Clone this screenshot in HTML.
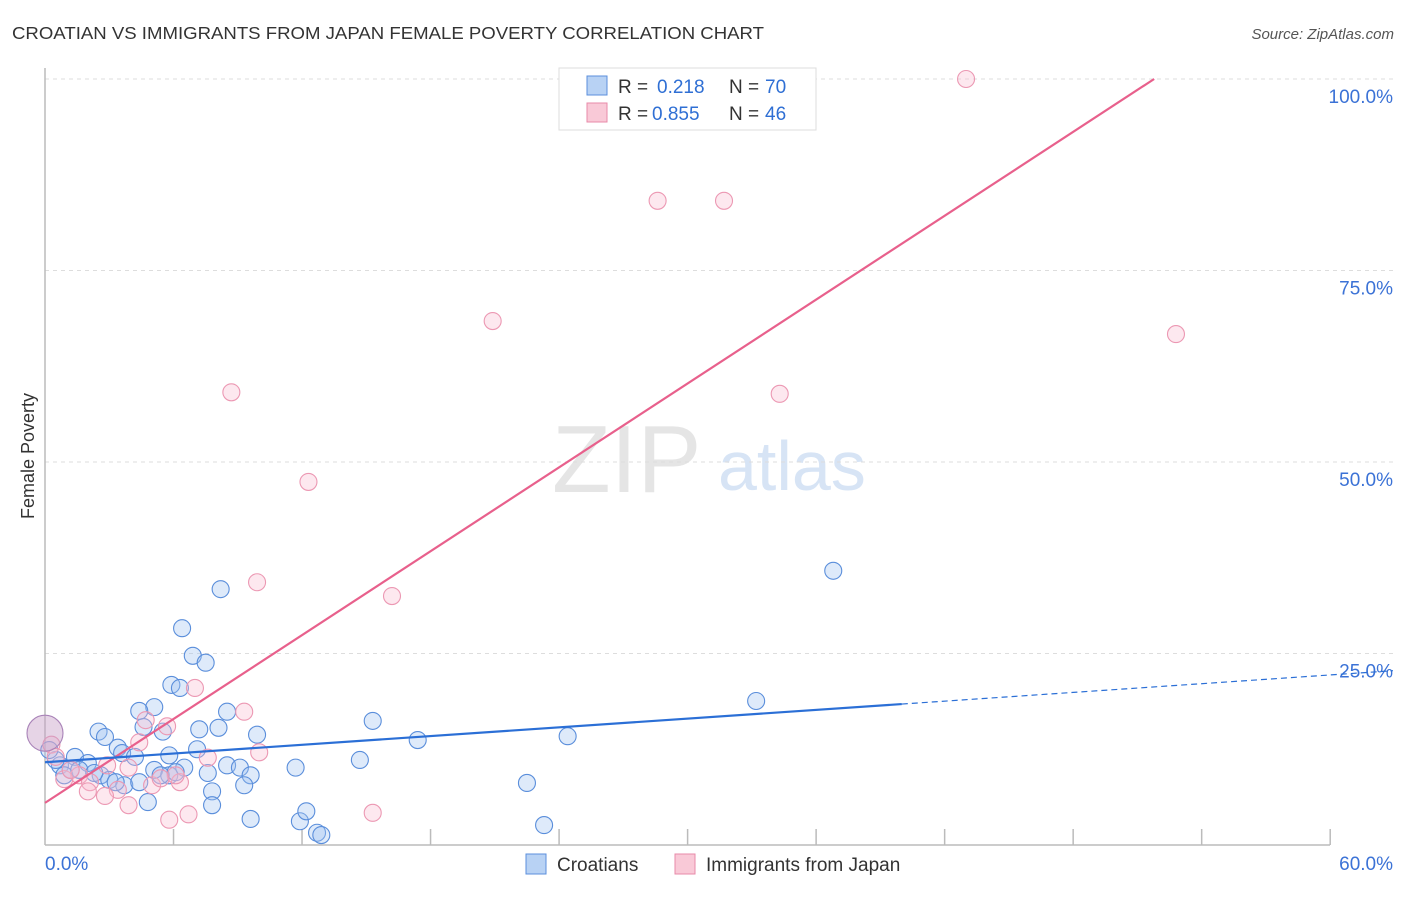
<!DOCTYPE html>
<html><head><meta charset="utf-8"><style>
body{margin:0;background:#fff;font-family:"Liberation Sans",sans-serif;}
svg text{font-family:"Liberation Sans",sans-serif;}
</style></head><body>
<svg id="c" width="1406" height="892">
<text x="12" y="39" font-size="17.5" fill="#333" textLength="752" lengthAdjust="spacingAndGlyphs">CROATIAN VS IMMIGRANTS FROM JAPAN FEMALE POVERTY CORRELATION CHART</text>
<text x="1394" y="39" font-size="15" fill="#555" font-style="italic" text-anchor="end">Source: ZipAtlas.com</text>
<text x="34" y="456" font-size="18" fill="#333" transform="rotate(-90 34 456)" text-anchor="middle">Female Poverty</text>
<g opacity="0.9">
<text x="552" y="492" font-size="96" font-family="Liberation Serif" fill="#e3e3e3">ZIP</text>
<text x="718" y="490" font-size="70" fill="#d3e2f5">atlas</text>
</g>
<g id="grid"></g><g id="axes"></g><g id="pts"></g><g id="lines"></g>
<g>
<rect x="559" y="68" width="257" height="62" fill="#fff" stroke="#ddd"/>
<rect x="587" y="76" width="20" height="19" fill="#b8d2f4" stroke="#5b8fdc"/>
<rect x="587" y="103" width="20" height="19" fill="#f9c9d7" stroke="#e88aa8"/>
<text x="618" y="93" font-size="19" fill="#333">R = </text><text x="657" y="93" font-size="19" fill="#2f6fd4">0.218</text>
<text x="729" y="93" font-size="19" fill="#333">N = </text><text x="765" y="93" font-size="19" fill="#2f6fd4">70</text>
<text x="618" y="120" font-size="19" fill="#333">R = </text><text x="652" y="120" font-size="19" fill="#2f6fd4">0.855</text>
<text x="729" y="120" font-size="19" fill="#333">N = </text><text x="765" y="120" font-size="19" fill="#2f6fd4">46</text>
</g>
<g>
<rect x="526" y="854" width="20" height="20" fill="#b8d2f4" stroke="#5b8fdc"/>
<text x="557" y="871" font-size="19" fill="#333">Croatians</text>
<rect x="675" y="854" width="20" height="20" fill="#f9c9d7" stroke="#e88aa8"/>
<text x="706" y="871" font-size="19" fill="#333">Immigrants from Japan</text>
</g>
</svg>
<script>
const blueX=[8.2,6.4,6.9,7.5,5.9,6.3,5.1,4.4,8.5,2.5,2.8,4.6,5.5,7.2,8.1,9.9,3.4,3.6,4.2,7.1,5.8,1.4,2.0,0.7,0.5,1.2,2.6,3.0,3.7,5.1,5.8,6.5,7.6,8.5,9.1,9.6,9.3,7.8,7.8,4.8,9.6,11.7,11.9,12.2,12.7,12.9,15.3,14.7,17.4,22.5,23.3,24.4,33.2,36.8,0.2,0.9,1.6,2.3,3.3,4.4,5.4,6.1];
const blueY=[33.4,28.3,24.7,23.8,20.9,20.5,18.0,17.5,17.4,14.8,14.1,15.4,14.8,15.1,15.3,14.4,12.7,12.0,11.5,12.5,11.7,11.5,10.7,10.4,11.1,9.8,9.1,8.5,7.8,9.8,9.1,10.1,9.4,10.4,10.1,9.1,7.8,7.0,5.2,5.6,3.4,10.1,3.1,4.4,1.6,1.3,16.2,11.1,13.7,8.1,2.6,14.2,18.8,35.8,12.4,9.1,9.8,9.4,8.2,8.2,9.1,9.5];
const pinkX=[43.0,28.6,31.7,20.9,52.8,8.7,34.3,12.3,9.9,16.2,7.0,9.3,5.7,4.7,4.4,10.0,7.6,3.9,2.9,1.6,0.9,2.1,3.4,5.0,6.3,6.1,2.0,2.8,3.9,5.8,6.7,15.3,0.3,0.5,1.2,5.4];
const pinkY=[100,84.1,84.1,68.4,66.7,59.1,58.9,47.4,34.3,32.5,20.5,17.4,15.5,16.3,13.4,12.1,11.4,10.1,10.4,9.1,8.6,8.2,7.2,7.8,8.2,9.1,7.0,6.4,5.2,3.3,4.0,4.2,13.1,11.5,9.8,8.7];
const yTicks=[25,50,75,100];
const yTickLabels=["25.0%","50.0%","75.0%","100.0%"];
const xTicks=[0,6,12,18,24,30,36,42,48,54,60];
const blueFit=[10.8,0.19];
const pinkFit=[5.5,1.825];
const X=v=>45+v*21.42, Y=v=>845-v*7.66;
const NS="http://www.w3.org/2000/svg";
function mk(p,t,a){const e=document.createElementNS(NS,t);for(const k in a)e.setAttribute(k,a[k]);p.appendChild(e);return e;}
const g=document.getElementById('grid'),ax=document.getElementById('axes'),pts=document.getElementById('pts'),ln=document.getElementById('lines');
yTicks.forEach((t,i)=>{
 const l=mk(g,'line',{x1:45,x2:1393,y1:Y(t),y2:Y(t),stroke:'#ddd','stroke-dasharray':'4,4'});
 
 
 const tx=mk(ax,'text',{x:1393,y:Y(t)+24,'font-size':19,fill:'#3b72d6','text-anchor':'end'});
 tx.textContent=yTickLabels[i];
 
 
});
mk(ax,'line',{x1:45,x2:45,y1:68,y2:845,stroke:'#bbb','stroke-width':1.5});
mk(ax,'line',{x1:45,x2:1330,y1:845,y2:845,stroke:'#bbb','stroke-width':1.5});
xTicks.slice(1).forEach(t=>{
 const l=mk(ax,'line',{x1:X(t),x2:X(t),y1:829,y2:845,stroke:'#bbb','stroke-width':1.5});
 
 
});
const x0=mk(ax,'text',{x:45,y:870,'font-size':19,fill:'#3b72d6'});x0.textContent="0.0%";


const x1=mk(ax,'text',{x:1393,y:870,'font-size':19,fill:'#3b72d6','text-anchor':'end'});x1.textContent="60.0%";


blueX.forEach((v,i)=>{
 const c=mk(pts,'circle',{cx:X(v),cy:Y(blueY[i]),r:8.5,fill:'rgba(160,195,240,0.35)',stroke:'#5a8edb','stroke-width':1.1});
 
 
});
pinkX.forEach((v,i)=>{
 const c=mk(pts,'circle',{cx:X(v),cy:Y(pinkY[i]),r:8.5,fill:'rgba(248,190,210,0.35)',stroke:'#ec98b3','stroke-width':1.1});
 
 
});
const big=mk(pts,'circle',{cx:45,cy:Y(14.6),r:18,fill:'rgba(200,160,200,0.45)',stroke:'#a983b8','stroke-width':1.1});


const pe=(100-pinkFit[0])/pinkFit[1];
const pl=mk(ln,'line',{x1:X(0),y1:Y(pinkFit[0]),x2:X(pe),y2:Y(100),stroke:'#e8608c','stroke-width':2.2});


const bl=mk(ln,'line',{x1:X(0),y1:Y(blueFit[0]),x2:X(40),y2:Y(blueFit[0]+40*blueFit[1]),stroke:'#2b6fd6','stroke-width':2.2});


const bd=mk(ln,'line',{x1:X(40),y1:Y(blueFit[0]+40*blueFit[1]),x2:1393,y2:Y(blueFit[0]+((1393-45)/21.42)*blueFit[1]),stroke:'#2b6fd6','stroke-width':1.2,'stroke-dasharray':'6,4'});


</script>
</body></html>
